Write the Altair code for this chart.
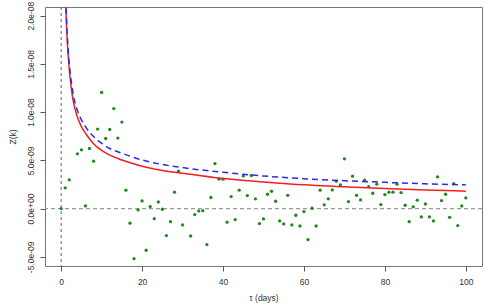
import altair as alt
import pandas as pd

# observed points (tau in days, Z in units of 1e-9)
tau_pts = [0, 1, 2, 4, 5, 6, 7, 8, 9, 10, 11, 12, 13, 14, 15, 16, 17, 18, 19, 20,
           21, 22, 23, 24, 25, 26, 27, 28, 29, 30, 32, 33, 34, 35, 36, 37, 38, 39, 40,
           41, 42, 43, 44, 45, 46, 47, 48, 49, 50, 51, 52, 53, 54, 55, 56, 57, 58, 59, 60,
           61, 62, 63, 64, 65, 66, 67, 68, 69, 70, 71, 72, 73, 74, 75, 76, 77, 78, 79, 80,
           81, 82, 83, 84, 85, 86, 87, 88, 89, 90, 91, 92, 93, 94, 95, 96, 97, 98, 99, 100]
z_pts = [0.0, 2.15, 2.98, 5.68, 6.09, 0.28, 6.23, 4.92, 8.24, 12.04, 7.27, 8.20, 10.37, 7.31, 8.97,
         1.91, -1.51, -5.19, -0.14, 0.80, -4.32, 0.21, -1.04, 0.69, -0.07, -2.80, -1.35, 1.70,
         3.88, -1.69, -2.83, -0.62, -0.24, -0.21, -3.73, 1.15, 4.67, 3.05, 3.05, -1.41, 1.25,
         -1.14, 1.91, 3.39, 1.35, 3.43, 1.01, -1.55, -1.07, 1.49, 1.80, 0.76, -1.28, -1.59,
         1.38, -1.69, -0.69, -1.80, -0.31, -3.21, 0.04, -1.80, 1.91, 0.39, 1.01, 1.94, 2.84,
         2.46, 5.16, 0.73, 3.36, 1.38, 0.90, 2.95, 2.28, 1.59, 2.53, 0.42, 1.45, 1.70, 1.70,
         2.53, 1.66, 0.35, -1.35, 0.18, 0.87, -0.86, 0.48, -0.86, -1.28, 3.29, 0.83, 1.49,
         -0.90, 2.58, -1.76, 0.28, 1.11]

# fitted curves
tau_curve = [1.0, 1.2, 1.5, 2, 2.5, 3, 4, 5, 6, 8, 10, 12, 15, 20, 25, 30, 40, 50, 60, 70, 80, 90, 100]
z_red = [23.2, 20.3, 17.4, 14.45, 12.46, 11.08, 9.5, 8.5, 7.81, 6.73, 6.03, 5.54, 5.04, 4.40,
         3.96, 3.66, 3.12, 2.77, 2.47, 2.27, 2.08, 1.93, 1.81]
z_blue = [23.9, 20.97, 18.0, 15.03, 13.15, 11.77, 10.19, 9.2, 8.5, 7.47, 6.77, 6.23, 5.74, 5.04,
          4.57, 4.25, 3.76, 3.38, 3.10, 2.89, 2.72, 2.57, 2.46]

x_ticks = [0, 20, 40, 60, 80, 100]
y_ticks = [-5, 0, 5, 10, 15, 20]

FONT = "Liberation Sans"

xscale = alt.Scale(domain=[-4, 104], nice=False, zero=False)
yscale = alt.Scale(domain=[-5.95, 20.9], nice=False, zero=False)

ylabel = ("datum.value == 0 ? '0.0e+00' : (datum.value < 0 ? '-' : '') + "
          "(abs(datum.value) >= 10 ? format(abs(datum.value)/10, '.1f') + 'e-08' : "
          "format(abs(datum.value), '.1f') + 'e-09')")

xaxis = alt.Axis(values=x_ticks, title="τ (days)", labelPadding=6, titlePadding=8)
yaxis = alt.Axis(values=y_ticks, title="Z(k)", labelExpr=ylabel, labelAngle=270,
                 labelAlign="center", labelBaseline="bottom", labelPadding=5, titlePadding=9)

pts = pd.DataFrame({"tau": tau_pts, "z": z_pts})
red = pd.DataFrame({"tau": tau_curve, "z": z_red})
blue = pd.DataFrame({"tau": tau_curve, "z": z_blue})

hline = alt.Chart(pd.DataFrame({"z": [0]})).mark_rule(
    color="#9a9a9a", strokeDash=[4, 3], strokeWidth=1.4
).encode(y=alt.Y("z:Q", scale=yscale, axis=yaxis))

vline = alt.Chart(pd.DataFrame({"tau": [0]})).mark_rule(
    color="#555555", strokeDash=[3, 3], strokeWidth=0.9
).encode(x=alt.X("tau:Q", scale=xscale, axis=xaxis))

points = alt.Chart(pts).mark_circle(size=11, color="#1e8a1e", opacity=1).encode(
    x=alt.X("tau:Q", scale=xscale, axis=xaxis),
    y=alt.Y("z:Q", scale=yscale, axis=yaxis),
)

red_line = alt.Chart(red).mark_line(color="#f02020", strokeWidth=1.5, clip=True,
                                    interpolate="monotone").encode(
    x=alt.X("tau:Q", scale=xscale, axis=xaxis),
    y=alt.Y("z:Q", scale=yscale, axis=yaxis),
)

blue_line = alt.Chart(blue).mark_line(color="#2a2ae8", strokeWidth=1.5, clip=True,
                                      strokeDash=[6, 4], interpolate="monotone").encode(
    x=alt.X("tau:Q", scale=xscale, axis=xaxis),
    y=alt.Y("z:Q", scale=yscale, axis=yaxis),
)

chart = alt.layer(hline, vline, points, red_line, blue_line).properties(
    width=437, height=259,
    padding={"left": 45, "top": 7, "right": 12, "bottom": 41},
    autosize=alt.AutoSizeParams(type="none"),
    background="white",
).configure_view(
    stroke="#777777", strokeWidth=1
).configure_axis(
    domain=False, grid=False, ticks=True, tickSize=5, tickColor="#555555", tickWidth=1,
    labelFont=FONT, labelFontSize=8.5, labelColor="#333333",
    titleFont=FONT, titleFontSize=8.5, titleColor="#333333", titleFontWeight="normal",
)

chart.save("out.html", embed_options={"renderer": "svg", "actions": False})
